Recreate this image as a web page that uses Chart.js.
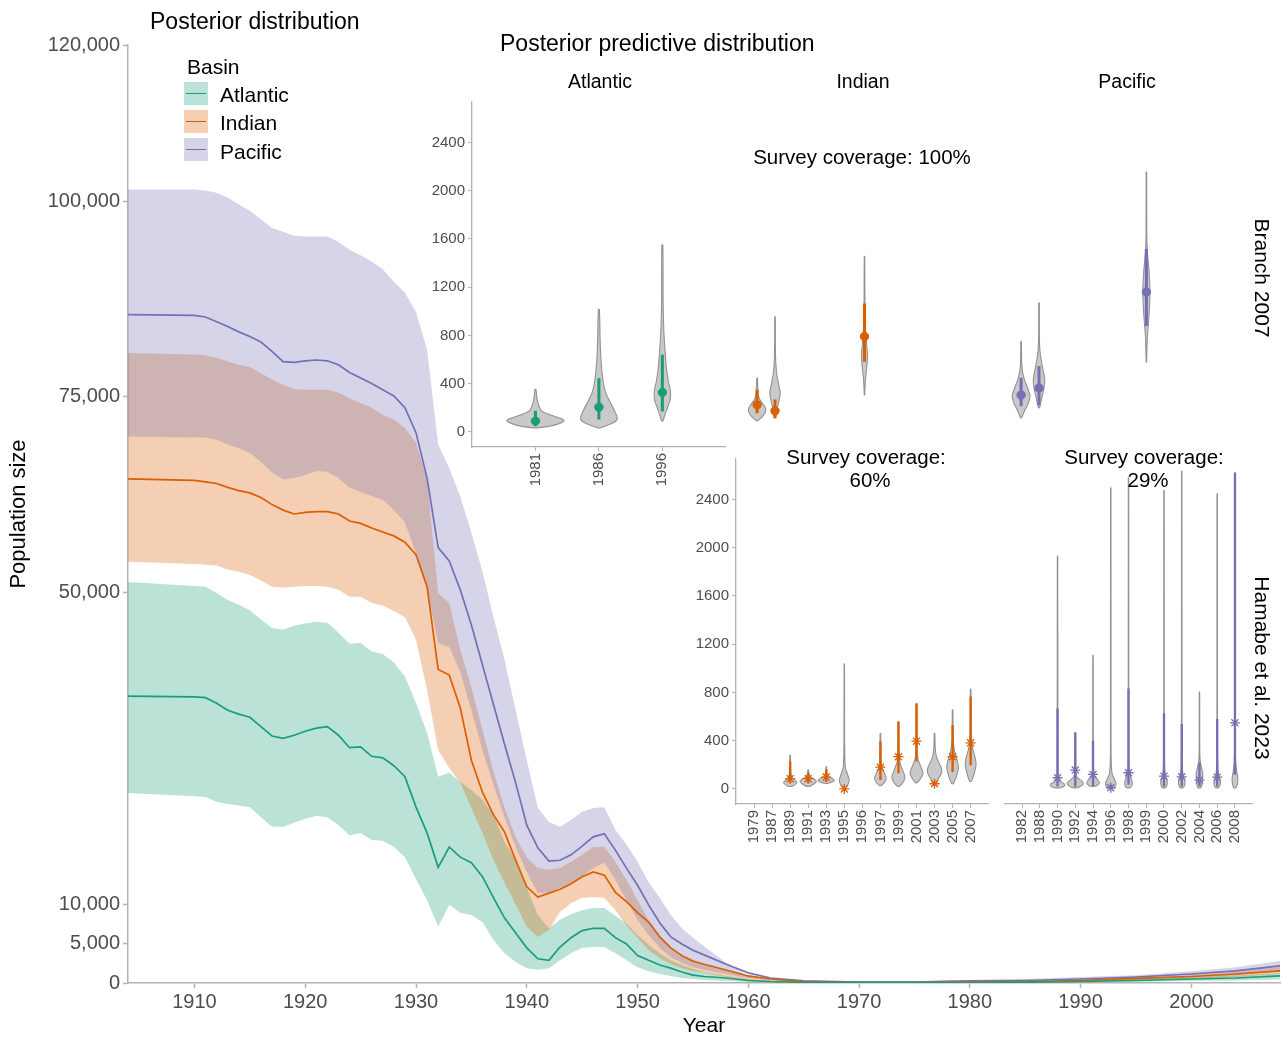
<!DOCTYPE html>
<html lang="en">
<head>
<meta charset="UTF-8">
<script src="https://cdn.jsdelivr.net/npm/chart.js"></script>
<title>Posterior distribution</title>
<style>
  body { margin: 0; background: #fff; font-family: "Liberation Sans", Arial, Helvetica, sans-serif; }
  .mae { position: relative; width: 1282px; height: 1039px; overflow: hidden; }
  canvas { position: absolute; }
  .txt { position: absolute; white-space: nowrap; line-height: 1; color: #000; }
  .c { transform: translate(-50%, -50%); text-align: center; }
  .e { transform: translate(0, -50%); }
  .rot { transform: translate(-50%, -50%) rotate(90deg); }
  .chave { position: absolute; width: 24px; height: 23px; }
  .chave span { position: absolute; left: 2px; right: 2px; top: 10.5px; height: 1.6px; }
</style>
</head>
<body>
<div class="mae">
  <canvas id="principal" width="1282" height="1039" style="left:0;top:0"></canvas>
  <canvas id="atlCima"></canvas>
  <canvas id="indCima"></canvas>
  <canvas id="pacCima"></canvas>
  <canvas id="indBaixo"></canvas>
  <canvas id="pacBaixo"></canvas>

  <div class="txt e" style="left:150px;top:21px;font-size:23px">Posterior distribution</div>
  <div class="txt e" style="left:187px;top:66px;font-size:21px">Basin</div>
  <div class="chave" style="left:184px;top:82px;background:rgba(27,158,119,0.3)"><span style="background:#1b9e77"></span></div>
  <div class="chave" style="left:184px;top:110px;background:rgba(217,95,2,0.3)"><span style="background:#d95f02"></span></div>
  <div class="chave" style="left:184px;top:138px;background:rgba(117,112,179,0.3)"><span style="background:#7570b3"></span></div>
  <div class="txt e" style="left:220px;top:94px;font-size:21px">Atlantic</div>
  <div class="txt e" style="left:220px;top:122px;font-size:21px">Indian</div>
  <div class="txt e" style="left:220px;top:151px;font-size:21px">Pacific</div>

  <div class="txt e" style="left:500px;top:43px;font-size:23px">Posterior predictive distribution</div>
  <div class="txt c" style="left:600px;top:82px;font-size:19.5px">Atlantic</div>
  <div class="txt c" style="left:863px;top:82px;font-size:19.5px">Indian</div>
  <div class="txt c" style="left:1127px;top:82px;font-size:19.5px">Pacific</div>
  <div class="txt c" style="left:862px;top:157px;font-size:20.5px">Survey coverage: 100%</div>
  <div class="txt c" style="left:866px;top:457px;font-size:20.5px">Survey coverage:</div>
  <div class="txt c" style="left:870px;top:480px;font-size:20.5px">60%</div>
  <div class="txt c" style="left:1144px;top:457px;font-size:20.5px">Survey coverage:</div>
  <div class="txt c" style="left:1148px;top:480px;font-size:20.5px">29%</div>
  <div class="txt rot" style="left:1262px;top:278px;font-size:21px">Branch 2007</div>
  <div class="txt rot" style="left:1262px;top:668px;font-size:21px">Hamabe et al. 2023</div>
</div>

<script>
// posterior distribution, yearly
const anos = [1904,1910,1911,1912,1913,1914,1915,1916,1917,1918,1919,1920,1921,1922,1923,1924,1925,1926,1927,1928,1929,1930,1931,1932,1933,1934,1935,1936,1937,1938,1939,1940,1941,1942,1943,1944,1945,1946,1947,1948,1949,1950,1951,1952,1953,1954,1955,1956,1958,1960,1962,1965,1970,1975,1980,1985,1990,1995,2000,2004,2008];

const atlMed = [36700,36600,36500,35800,34900,34400,34000,32800,31600,31300,31700,32200,32600,32800,31700,30100,30200,29000,28800,27800,26400,22500,19200,14800,17400,16100,15400,13600,10900,8300,6400,4500,3100,2900,4600,5800,6700,7000,7000,5800,5000,3500,2900,2300,1900,1400,1000,830,640,320,190,90,40,40,60,100,190,320,510,640,900];
const atlLo = [24300,23900,23800,23200,22900,22700,22500,21200,20000,20000,20500,21000,21400,21200,20200,18900,19200,18300,18200,17400,16100,13300,10600,7200,10000,9000,8700,7800,5500,3800,2700,1900,1700,1900,2900,3800,4500,4600,4600,3800,2900,2000,1500,1150,900,640,510,380,260,130,60,30,0,0,30,40,80,150,260,320,450];
const atlHi = [51300,50800,50700,49900,49000,48400,47700,46500,45400,45200,45700,46000,46200,46100,44800,43400,43500,42400,42100,41000,39200,35800,32000,26400,26900,25700,24700,23400,21500,18000,15700,12200,8700,7000,8100,8800,9300,9600,9600,8600,7600,6100,4900,3800,2900,2300,1800,1400,900,510,260,130,60,60,130,190,320,510,770,960,1280];

const indMed = [64500,64300,64100,63900,63400,63000,62700,62100,61200,60500,60000,60200,60300,60300,60000,59100,58800,58200,57700,57200,56400,54800,50700,40100,39400,35200,28500,24400,21500,19300,15700,12300,11000,11500,12000,12700,13600,14200,13800,11600,10400,9000,7800,5900,4500,3500,2800,2400,1660,900,510,190,60,60,130,190,320,580,830,1150,1540];
const indLo = [53900,53600,53500,53400,52900,52600,52200,51500,50700,50600,50700,50800,50800,50700,50300,49400,49400,48600,48300,47600,46800,43900,37500,29800,27500,25600,22400,19200,15700,12800,10000,7200,5900,6800,9100,10200,10900,11000,10900,9300,7400,5800,4200,3200,2400,1900,1500,1300,770,380,190,60,0,0,60,60,190,320,510,770,1150];
const indHi = [80600,80400,80300,80000,79500,79100,78800,78000,77200,76500,76000,75900,75900,75900,75500,74800,74200,73600,72700,72100,71000,69100,64400,49900,48600,42600,37800,32400,27000,22400,18600,16100,14700,14500,14700,15500,16400,17400,17400,15500,13200,10600,8100,6000,4500,3600,2900,2400,1660,900,510,260,130,130,130,190,380,640,1000,1400,2050];

const pacMed = [85500,85400,85200,84600,84000,83300,82700,82000,80800,79500,79400,79600,79700,79600,79100,78100,77400,76700,75900,75100,73600,70400,64600,55700,54000,50300,45800,40700,35600,30500,25600,20200,17300,15600,15700,16400,17500,18700,19100,17000,14700,12500,10000,7700,5900,5000,4200,3600,2400,1300,640,260,130,130,260,320,510,770,1150,1540,2180];
const pacLo = [69900,69800,69800,69500,68900,68400,67800,66700,65300,64400,64600,65000,65500,65400,64600,63400,62800,62300,61800,60500,58900,55000,50300,43500,43000,39800,34900,29800,25300,21200,17400,14200,11500,11600,12200,12800,13700,14700,15400,13200,10600,8100,6100,4500,3300,2600,2000,1700,1150,640,380,130,60,60,130,190,260,450,770,1000,1500];
const pacHi = [101500,101500,101400,101100,100500,99600,98800,97700,96600,96100,95600,95500,95500,95500,94800,93800,93100,92300,91300,89700,88300,85800,81000,68900,65900,62200,57600,52600,46800,41300,34900,28500,22400,20600,20000,20900,21900,22400,22500,19600,17700,15500,12900,10900,8700,7000,5800,4700,2600,900,500,260,260,260,380,500,770,1000,1500,2000,2800];

const yTicks = [0,5000,10000,50000,75000,100000,120000];
const xTicks = [1910,1920,1930,1940,1950,1960,1970,1980,1990,2000];

// posterior predictive, survey years per basin column
const atlAnos = ['1981','1986','1996'];
const indAnos = ['1979','1987','1989','1991','1993','1995','1996','1997','1999','2001','2003','2005','2007'];
const pacAnos = ['1982','1988','1990','1992','1994','1996','1998','1999','2000','2002','2004','2006','2008'];
const yInset = [0,400,800,1200,1600,2000,2400];

// Branch 2007 row. violin profiles: [abundance, half width]
const atlCimaAnos = ['1981','1986','1996'];
const atlCimaViol = [
  [[33,0.03],[50,0.25],[75,0.4],[95,0.45],[115,0.38],[140,0.24],[172,0.1],[230,0.045],[290,0.02],[352,0.008]],
  [[33,0.02],[49,0.1],[80,0.24],[110,0.29],[172,0.25],[254,0.17],[336,0.1],[445,0.06],[581,0.035],[750,0.02],[1016,0.008]],
  [[90,0.01],[140,0.04],[200,0.08],[260,0.12],[309,0.13],[360,0.12],[418,0.095],[527,0.065],[691,0.04],[855,0.022],[1100,0.012],[1549,0.008]]
];
const atlCimaInt = [[49,172],[106,442],[172,637]];
const atlCimaMed = [90,205,327];

const indCimaAnos = ['1979','1987','1996'];
const indCimaViol = [
  [[66,0.03],[100,0.3],[140,0.47],[170,0.47],[210,0.3],[250,0.12],[300,0.05],[418,0.02]],
  [[90,0.03],[150,0.1],[230,0.22],[295,0.29],[370,0.2],[450,0.1],[560,0.04],[700,0.02],[926,0.015]],
  [[278,0.01],[400,0.05],[500,0.12],[600,0.17],[700,0.12],[800,0.06],[950,0.025],[1425,0.015]]
];
const indCimaInt = [[131,320],[90,238],[557,1032]];
const indCimaMed = [197,147,762];

const pacCimaAnos = ['1982','1988','1999'];
const pacCimaViol = [
  [[90,0.03],[150,0.2],[210,0.4],[270,0.5],[330,0.38],[400,0.2],[470,0.08],[550,0.03],[721,0.015]],
  [[172,0.03],[250,0.15],[330,0.27],[400,0.32],[470,0.25],[560,0.13],[650,0.05],[780,0.02],[1040,0.015]],
  [[549,0.01],[750,0.05],[950,0.15],[1130,0.2],[1300,0.15],[1450,0.06],[1600,0.02],[2122,0.015]]
];
const pacCimaInt = [[188,418],[197,516],[852,1483]];
const pacCimaMed = [278,336,1130];

// Hamabe et al. 2023 row
const indBaixoAnos = ['1989','1991','1993','1995','1997','1999','2001','2003','2005','2007'];
const indBaixoViol = [
  [[21,0.1],[40,0.3],[55,0.36],[75,0.25],[100,0.08],[150,0.03],[281,0.015]],
  [[21,0.1],[45,0.35],[63,0.45],[80,0.35],[100,0.12],[130,0.03],[158,0.015]],
  [[45,0.05],[55,0.3],[71,0.45],[85,0.35],[105,0.12],[140,0.03],[185,0.015]],
  [[10,0.05],[40,0.22],[76,0.27],[120,0.18],[180,0.06],[300,0.025],[500,0.015],[1037,0.01]],
  [[27,0.05],[60,0.25],[92,0.32],[130,0.22],[180,0.07],[260,0.03],[461,0.015]],
  [[21,0.05],[60,0.28],[103,0.36],[150,0.25],[220,0.08],[320,0.03],[560,0.015]],
  [[51,0.05],[90,0.25],[133,0.36],[180,0.25],[250,0.08],[350,0.03],[700,0.015]],
  [[40,0.05],[80,0.2],[120,0.35],[158,0.4],[200,0.3],[260,0.12],[330,0.04],[461,0.015]],
  [[43,0.05],[100,0.2],[174,0.32],[240,0.25],[320,0.1],[420,0.03],[655,0.015]],
  [[62,0.05],[130,0.2],[199,0.3],[260,0.25],[340,0.1],[450,0.03],[827,0.015]]
];
const indBaixoInt = [[51,226],[51,133],[60,160],[0,8],[76,390],[133,554],[230,707],[40,48],[144,527],[199,764]];
const indBaixoObs = [85,85,98,0,180,267,396,43,267,382];

const pacBaixoAnos = ['1990','1992','1994','1996','1998','2000','2002','2004','2006','2008'];
const pacBaixoViol = [
  [[8,0.2],[25,0.4],[40,0.38],[60,0.15],[100,0.04],[200,0.02],[1906,0.012]],
  [[8,0.15],[30,0.4],[49,0.45],[70,0.3],[100,0.08],[160,0.03],[459,0.012]],
  [[21,0.15],[40,0.33],[54,0.35],[75,0.25],[110,0.08],[200,0.02],[1092,0.012]],
  [[8,0.1],[25,0.27],[49,0.29],[80,0.2],[120,0.08],[200,0.03],[400,0.015],[2466,0.012]],
  [[8,0.1],[30,0.2],[60,0.2],[100,0.12],[150,0.04],[300,0.015],[2547,0.012]],
  [[8,0.08],[30,0.17],[60,0.18],[100,0.1],[160,0.04],[300,0.015],[2446,0.012]],
  [[8,0.08],[30,0.17],[60,0.18],[100,0.1],[160,0.04],[300,0.015],[2602,0.012]],
  [[8,0.08],[40,0.16],[90,0.18],[130,0.18],[170,0.12],[230,0.04],[350,0.015],[791,0.012]],
  [[8,0.08],[30,0.17],[60,0.18],[100,0.1],[160,0.04],[300,0.015],[2419,0.012]],
  [[8,0.06],[40,0.14],[90,0.16],[140,0.1],[220,0.04],[400,0.015],[2588,0.012]]
];
const pacBaixoInt = [[21,655],[20,459],[21,390],[0,30],[35,819],[21,617],[21,527],[21,213],[21,568],[117,2588]];
const pacBaixoObs = [90,153,117,8,131,103,98,71,95,540];

const cores = { atl: '#1b9e77', ind: '#d95f02', pac: '#7570b3' };
const cinza = '#b3b3b3';
const textoEixo = '#4d4d4d';

Chart.defaults.font.family = '"Liberation Sans", Arial, Helvetica, sans-serif';
Chart.defaults.color = textoEixo;

function pts(vals) {
  return vals.map((v, i) => ({ x: anos[i], y: v }));
}

function linha(vals, cor, ordem) {
  return { data: pts(vals), borderColor: cor, borderWidth: 1.7, pointRadius: 0, fill: false, order: ordem };
}

function borda(vals, ordem) {
  return { data: pts(vals), borderColor: 'rgba(0,0,0,0)', borderWidth: 0, pointRadius: 0, fill: false, order: ordem };
}

function faixa(vals, alvo, cor, ordem) {
  return { data: pts(vals), borderColor: 'rgba(0,0,0,0)', borderWidth: 0, pointRadius: 0, fill: alvo, backgroundColor: cor, order: ordem };
}

new Chart(document.getElementById('principal'), {
  type: 'line',
  data: {
    datasets: [
      linha(atlMed, cores.atl, 0),
      linha(indMed, cores.ind, 0),
      linha(pacMed, cores.pac, 0),
      borda(pacLo, 1),
      faixa(pacHi, 3, 'rgba(117,112,179,0.3)', 1),
      borda(indLo, 2),
      faixa(indHi, 5, 'rgba(217,95,2,0.3)', 2),
      borda(atlLo, 3),
      faixa(atlHi, 7, 'rgba(27,158,119,0.3)', 3)
    ]
  },
  options: {
    responsive: false,
    animation: false,
    events: [],
    layout: { padding: { left: 0, right: 2, top: 45, bottom: 0 } },
    plugins: { legend: { display: false }, tooltip: { enabled: false } },
    scales: {
      x: {
        type: 'linear', min: 1904, max: 2008,
        afterBuildTicks: s => { s.ticks = xTicks.map(v => ({ value: v })); },
        afterFit: s => { s.height = 56; },
        ticks: { font: { size: 20 }, color: textoEixo, padding: 2, maxRotation: 0, callback: v => String(v) },
        grid: { drawOnChartArea: false, tickLength: 5, tickColor: cinza, tickWidth: 1.5 },
        border: { color: cinza, width: 1.5 },
        title: { display: true, text: 'Year', font: { size: 21 }, color: '#000', padding: { top: 0, bottom: 0 } }
      },
      y: {
        min: 0, max: 120000,
        afterBuildTicks: s => { s.ticks = yTicks.map(v => ({ value: v })); },
        afterFit: s => { s.width = 128; },
        ticks: { font: { size: 20 }, color: textoEixo, padding: 3, callback: v => v.toLocaleString('en-US') },
        grid: { drawOnChartArea: false, tickLength: 5, tickColor: cinza, tickWidth: 1.5 },
        border: { color: cinza, width: 1.5 },
        title: { display: true, text: 'Population size', font: { size: 22 }, color: '#000', padding: { top: 6, bottom: 0 } }
      }
    }
  }
});

function fazPainel(id, area, anosPainel, anosMostrados, violinos, intervalos, pontos, cor, simbolo, comY, comX) {
  const n = anosPainel.length;
  const cv = document.getElementById(id);
  const larguraY = comY ? 52 : 2;
  const alturaX = comX ? 50 : 2;
  const esq = area.l - larguraY;
  const topo = area.t - 8;
  cv.width = area.r + 4 - esq;
  cv.height = area.b + alturaX - topo;
  cv.style.left = esq + 'px';
  cv.style.top = topo + 'px';

  const pos = anosMostrados.map(a => anosPainel.indexOf(a) + 1);
  const conjuntos = [];
  violinos.forEach((perfil, i) => {
    const c = pos[i];
    const lado = perfil.map(p => ({ x: c + p[1], y: p[0] }));
    const outro = perfil.slice().reverse().map(p => ({ x: c - p[1], y: p[0] }));
    conjuntos.push({
      type: 'line', data: lado.concat(outro, [lado[0]]), fill: 'shape',
      backgroundColor: '#c9c9c9', borderColor: '#929292', borderWidth: 1.1,
      pointRadius: 0, tension: 0.25, order: 3
    });
  });
  conjuntos.push({
    type: 'bar', data: intervalos.map((v, i) => ({ x: pos[i], y: v })),
    backgroundColor: cor, borderWidth: 0, barThickness: simbolo === 'star' ? 1.7 : 2.4, order: 2
  });
  conjuntos.push({
    type: 'scatter', data: pontos.map((v, i) => ({ x: pos[i], y: v })),
    pointStyle: simbolo, pointRadius: simbolo === 'star' ? 5 : 4.2,
    backgroundColor: cor, borderColor: cor, borderWidth: simbolo === 'star' ? 1.3 : 1, order: 1
  });

  new Chart(cv, {
    type: 'scatter',
    data: { datasets: conjuntos },
    options: {
      responsive: false,
      animation: false,
      events: [],
      layout: { padding: { left: 0, right: 4, top: 8, bottom: 0 } },
      plugins: { legend: { display: false }, tooltip: { enabled: false } },
      scales: {
        x: {
          type: 'linear', min: 0, max: n + 1, offset: false,
          afterBuildTicks: s => { s.ticks = anosPainel.map((a, i) => ({ value: i + 1 })); },
          afterFit: s => { s.height = alturaX; },
          ticks: { display: comX, autoSkip: false, minRotation: 90, maxRotation: 90, font: { size: 15 }, color: textoEixo, padding: 2, callback: v => anosPainel[v - 1] },
          grid: { display: comX, drawOnChartArea: false, tickLength: 4, tickColor: cinza, offset: false },
          border: { display: comX, color: cinza, width: 1.3 }
        },
        y: {
          type: 'linear', min: -125, max: 2735,
          afterBuildTicks: s => { s.ticks = yInset.map(v => ({ value: v })); },
          afterFit: s => { s.width = larguraY; },
          ticks: { display: comY, font: { size: 15 }, color: textoEixo, padding: 3, callback: v => String(v) },
          grid: { display: comY, drawOnChartArea: false, tickLength: 4, tickColor: cinza },
          border: { display: comY, color: cinza, width: 1.3 }
        }
      }
    }
  });
}

fazPainel('atlCima', { l: 472, t: 98, r: 727, b: 447 }, atlAnos, atlCimaAnos, atlCimaViol, atlCimaInt, atlCimaMed, cores.atl, 'circle', true, true);
fazPainel('indCima', { l: 736, t: 98, r: 991, b: 447 }, indAnos, indCimaAnos, indCimaViol, indCimaInt, indCimaMed, cores.ind, 'circle', false, false);
fazPainel('pacCima', { l: 1000, t: 98, r: 1255, b: 447 }, pacAnos, pacCimaAnos, pacCimaViol, pacCimaInt, pacCimaMed, cores.pac, 'circle', false, false);
fazPainel('indBaixo', { l: 736, t: 455, r: 991, b: 804 }, indAnos, indBaixoAnos, indBaixoViol, indBaixoInt, indBaixoObs, cores.ind, 'star', true, true);
fazPainel('pacBaixo', { l: 1000, t: 455, r: 1255, b: 804 }, pacAnos, pacBaixoAnos, pacBaixoViol, pacBaixoInt, pacBaixoObs, cores.pac, 'star', false, true);
</script>
</body>
</html>
